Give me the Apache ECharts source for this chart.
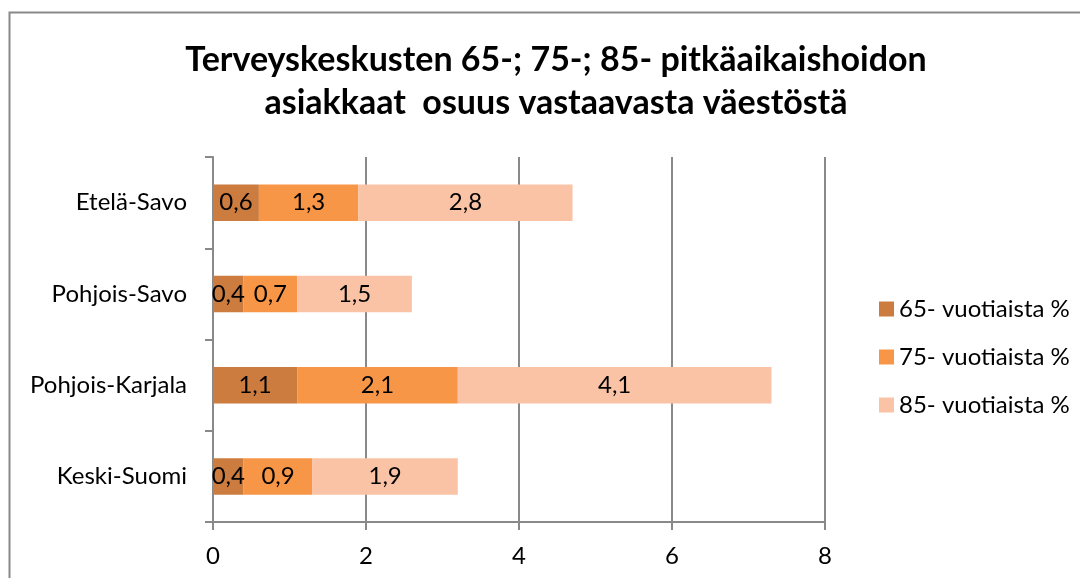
<!DOCTYPE html>
<html>
<head>
<meta charset="utf-8">
<script src="https://cdn.jsdelivr.net/npm/echarts@6/dist/echarts.min.js"></script>
<style>
html,body{margin:0;padding:0;background:#fff;}
#c{width:1080px;height:578px;}
</style>
</head>
<body>
<div id="c"></div>
<script>
const categories = ['Keski-Suomi', 'Pohjois-Karjala', 'Pohjois-Savo', 'Etelä-Savo'];
const seriesNames = ['65- vuotiaista %', '75- vuotiaista %', '85- vuotiaista %'];
const v65 = [0.4, 1.1, 0.4, 0.6];
const v75 = [0.9, 2.1, 0.7, 1.3];
const v85 = [1.9, 4.1, 1.5, 2.8];
const xTicks = [0, 2, 4, 6, 8];
const colors = ['#CB7C3E', '#F79646', '#FAC3A6'];

const FONT = 'Lato, "Open Sans", sans-serif';
const chart = echarts.init(document.getElementById('c'));
const mk = (name, data, color) => ({
  name, type: 'bar', stack: 'total', data, barWidth: '40%',
  itemStyle: { color },
  label: {
    show: true, position: 'inside', color: '#000', fontFamily: FONT, fontSize: 24,
    formatter: p => String(p.value).replace('.', ',')
  }
});
chart.setOption({
  animation: false,
  graphic: [{
    type: 'rect', shape: { x: 9.5, y: 12.5, width: 1100, height: 600 },
    style: { fill: 'none', stroke: '#898989', lineWidth: 2 }, z: -1
  }],
  title: {
    text: 'Terveyskeskusten 65-; 75-; 85- pitkäaikaishoidon\nasiakkaat  osuus vastaavasta väestöstä',
    left: 551, textAlign: 'center', top: 34,
    textStyle: { fontFamily: FONT, fontSize: 34, fontWeight: 'bold', color: '#000', lineHeight: 43 }
  },
  legend: {
    orient: 'vertical', left: 874, top: 292, itemGap: 24,
    itemWidth: 15, itemHeight: 15, icon: 'rect',
    textStyle: { fontFamily: FONT, fontSize: 24, color: '#000' },
    data: seriesNames
  },
  grid: { left: 213, right: 255, top: 157, bottom: 56 },
  xAxis: {
    type: 'value', min: 0, max: 8, interval: 2,
    axisLine: { show: true, lineStyle: { color: '#898989', width: 2 } },
    axisTick: { show: true, length: 8, lineStyle: { color: '#898989', width: 2 } },
    axisLabel: { fontFamily: FONT, fontSize: 24, color: '#000', margin: 22,
      formatter: v => xTicks.includes(v) ? String(v) : '' },
    splitLine: { show: true, lineStyle: { color: '#898989', width: 2 } }
  },
  yAxis: {
    type: 'category', data: categories,
    axisLine: { show: true, lineStyle: { color: '#898989', width: 2 } },
    axisTick: { show: true, length: 8, lineStyle: { color: '#898989', width: 2 } },
    axisLabel: { fontFamily: FONT, fontSize: 24, color: '#000', margin: 26 }
  },
  series: [mk(seriesNames[0], v65, colors[0]), mk(seriesNames[1], v75, colors[1]), mk(seriesNames[2], v85, colors[2])]
});
</script>
</body>
</html>
